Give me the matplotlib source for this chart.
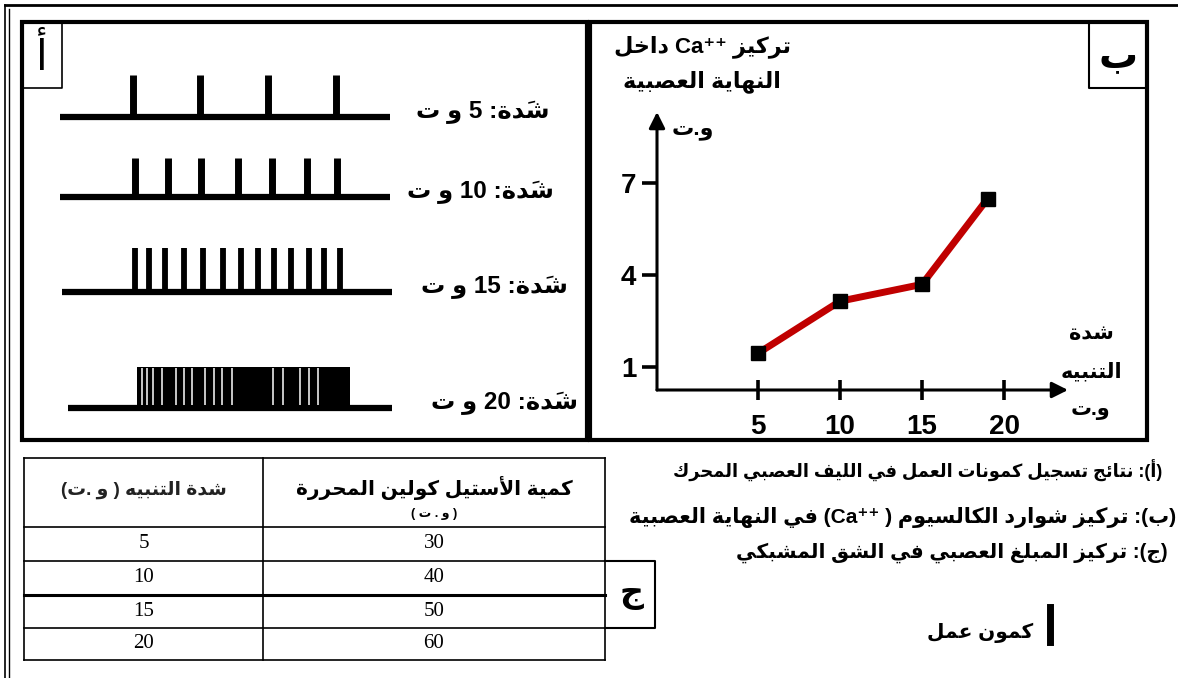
import matplotlib.pyplot as plt
from matplotlib.patches import Rectangle

# ---------------- data ----------------
# panel A: action potential trains (time units, baseline runs 0..100)
intensities = [5, 10, 15, 20]
spikes_5 = [22, 42.5, 63, 83.5]
spikes_10 = [22.7, 32.7, 42.7, 53.9, 64.2, 74.8, 83.9]
spikes_15 = [22.7, 27.0, 31.8, 37.6, 43.3, 49.4, 54.8, 60.0, 64.8, 70.0, 75.5, 80.0, 84.8]
burst_20 = (23.3, 87.9)
gaps_20 = [24.8, 26.4, 28.2, 30.9, 35.2, 37.6, 40.0, 43.9, 46.7, 49.1, 52.1,
           64.5, 67.6, 72.7, 75.5, 78.2]

# panel B: Ca++ concentration vs stimulus intensity
stim = [5, 10, 15, 19]
ca_conc = [1.45, 3.15, 3.7, 6.5]
b_xticks = [5, 10, 15, 20]
b_yticks = [1, 4, 7]

# panel C: table
tab_stim = [5, 10, 15, 20]
tab_ach = [30, 40, 50, 60]

# texts
row_label = 'شدَة: {} و ت'
b_ylabel = ['تركيز Ca⁺⁺ داخل', 'النهاية العصبية', 'و.ت']
b_xlabel = ['شدة', 'التنبيه', 'و.ت']
tab_head = ['شدة التنبيه ( و .ت)', 'كمية الأستيل كولين المحررة', '( و . ت )']
captions = ['(أ): نتائج تسجيل كمونات العمل في الليف العصبي المحرك',
            '(ب): تركيز شوارد الكالسيوم ( Ca⁺⁺) في النهاية العصبية',
            '(ج): تركيز المبلغ العصبي في الشق المشبكي']
ap_label = 'كمون عمل'

# ------------- arabic shaping (matplotlib has no RTL layout) -------------
FORMS = {
    'ء': ('\uFE80', None, None, None), 'آ': ('\uFE81', '\uFE82', None, None),
    'أ': ('\uFE83', '\uFE84', None, None), 'ؤ': ('\uFE85', '\uFE86', None, None),
    'إ': ('\uFE87', '\uFE88', None, None), 'ئ': ('\uFE89', '\uFE8A', '\uFE8B', '\uFE8C'),
    'ا': ('\uFE8D', '\uFE8E', None, None), 'ب': ('\uFE8F', '\uFE90', '\uFE91', '\uFE92'),
    'ة': ('\uFE93', '\uFE94', None, None), 'ت': ('\uFE95', '\uFE96', '\uFE97', '\uFE98'),
    'ث': ('\uFE99', '\uFE9A', '\uFE9B', '\uFE9C'), 'ج': ('\uFE9D', '\uFE9E', '\uFE9F', '\uFEA0'),
    'ح': ('\uFEA1', '\uFEA2', '\uFEA3', '\uFEA4'), 'خ': ('\uFEA5', '\uFEA6', '\uFEA7', '\uFEA8'),
    'د': ('\uFEA9', '\uFEAA', None, None), 'ذ': ('\uFEAB', '\uFEAC', None, None),
    'ر': ('\uFEAD', '\uFEAE', None, None), 'ز': ('\uFEAF', '\uFEB0', None, None),
    'س': ('\uFEB1', '\uFEB2', '\uFEB3', '\uFEB4'), 'ش': ('\uFEB5', '\uFEB6', '\uFEB7', '\uFEB8'),
    'ص': ('\uFEB9', '\uFEBA', '\uFEBB', '\uFEBC'), 'ض': ('\uFEBD', '\uFEBE', '\uFEBF', '\uFEC0'),
    'ط': ('\uFEC1', '\uFEC2', '\uFEC3', '\uFEC4'), 'ظ': ('\uFEC5', '\uFEC6', '\uFEC7', '\uFEC8'),
    'ع': ('\uFEC9', '\uFECA', '\uFECB', '\uFECC'), 'غ': ('\uFECD', '\uFECE', '\uFECF', '\uFED0'),
    'ف': ('\uFED1', '\uFED2', '\uFED3', '\uFED4'), 'ق': ('\uFED5', '\uFED6', '\uFED7', '\uFED8'),
    'ك': ('\uFED9', '\uFEDA', '\uFEDB', '\uFEDC'), 'ل': ('\uFEDD', '\uFEDE', '\uFEDF', '\uFEE0'),
    'م': ('\uFEE1', '\uFEE2', '\uFEE3', '\uFEE4'), 'ن': ('\uFEE5', '\uFEE6', '\uFEE7', '\uFEE8'),
    'ه': ('\uFEE9', '\uFEEA', '\uFEEB', '\uFEEC'), 'و': ('\uFEED', '\uFEEE', None, None),
    'ى': ('\uFEEF', '\uFEF0', None, None), 'ي': ('\uFEF1', '\uFEF2', '\uFEF3', '\uFEF4'),
}
LAM_ALEF = {'آ': ('\uFEF5', '\uFEF6'), 'أ': ('\uFEF7', '\uFEF8'),
            'إ': ('\uFEF9', '\uFEFA'), 'ا': ('\uFEFB', '\uFEFC')}
HARAKAT = set('\u064B\u064C\u064D\u064E\u064F\u0650\u0651\u0652')


def ar(text):
    clusters = []
    for ch in text:
        if ch in HARAKAT and clusters:
            clusters[-1][1] += ch
        else:
            clusters.append([ch, ''])
    res = []
    prev_joins = False
    i = 0
    n = len(clusters)
    while i < n:
        ch, marks = clusters[i]
        nxt = clusters[i + 1][0] if i + 1 < n else ''
        if ch == 'ل' and nxt in LAM_ALEF:
            res.append([LAM_ALEF[nxt][1 if prev_joins else 0], marks + clusters[i + 1][1], 'R'])
            prev_joins = False
            i += 2
            continue
        if ch in FORMS:
            iso, fin, ini, med = FORMS[ch]
            to_next = ini is not None and nxt in FORMS and FORMS[nxt][1] is not None
            if prev_joins and to_next:
                g = med
            elif prev_joins:
                g = fin
            elif to_next:
                g = ini
            else:
                g = iso
            res.append([g, marks, 'R'])
            prev_joins = to_next
        else:
            d = 'L' if (ch.isascii() and ch.isalnum()) or ch == '⁺' else 'N'
            res.append([ch, marks, d])
            prev_joins = False
        i += 1
    res = res[::-1]
    out = []
    j = 0
    while j < len(res):
        if res[j][2] == 'L':
            k = j
            while k < len(res) and res[k][2] == 'L':
                k += 1
            out += [g + m for g, m, _ in res[j:k][::-1]]
            j = k
        else:
            g, m, _ = res[j]
            out.append({'(': ')', ')': '('}.get(g, g) + m)
            j += 1
    return ''.join(out)


SANS = ['Liberation Sans', 'DejaVu Sans']
SERIF = ['Liberation Serif', 'DejaVu Sans']

fig = plt.figure(figsize=(11.78, 6.78), dpi=100)
base = fig.add_axes([0, 0, 1, 1])
base.set_xlim(0, 1178)
base.set_ylim(678, 0)
base.axis('off')

# outer frame
base.plot([5, 5], [5, 678], color='k', lw=1.2)
base.plot([9, 9], [9, 678], color='k', lw=1.0)
base.plot([5, 1178], [5, 5], color='k', lw=2.0)

# panel boxes
base.add_patch(Rectangle((22, 22), 565, 418, fill=False, lw=3, ec='k'))
base.add_patch(Rectangle((590, 22), 557, 418, fill=False, lw=3, ec='k'))
base.plot([22, 62, 62], [88, 88, 22], color='k', lw=1.2)
base.plot([1089, 1089, 1147], [22, 88, 88], color='k', lw=1.5)
base.text(42, 57, ar('أ'), ha='center', va='center', fontsize=30, family=SANS)
base.text(1118, 57, ar('ب'), ha='center', va='center', fontsize=28,
          fontweight='bold', family=SANS)

# ---------------- panel A ----------------
ax_a = fig.add_axes([0, 0, 590 / 1178, 1])
ax_a.set_xlim(-60 / 3.3, 530 / 3.3)
ax_a.set_ylim(678, 0)
ax_a.axis('off')
rows_base = [117, 197, 292, 408]
rows_top = [75, 158, 248, 367]
rows_span = [(0, 100), (0, 100), (0.6, 100.6), (2.4, 100.6)]
trains = [spikes_5, spikes_10, spikes_15]
for r in range(4):
    ax_a.hlines(rows_base[r], *rows_span[r], color='k', lw=4.5)
    if r < 3:
        ax_a.vlines(trains[r], rows_top[r], rows_base[r], color='k',
                    lw=5 if r < 2 else 4.2)
    else:
        ax_a.fill_between(burst_20, rows_top[r], rows_base[r], color='k', lw=0)
        ax_a.vlines(gaps_20, rows_top[r] + 1, rows_base[r] - 3, color='white', lw=1.1)
label_right = [550, 554, 568, 578]
for r, v in enumerate(intensities):
    base.text(label_right[r], rows_base[r] - 5, ar(row_label.format(v)), ha='right',
              va='center', fontsize=17.5, fontweight='bold', family=SANS)

# ---------------- panel B ----------------
x0, x1 = -1.16, 23.9
y0, y1 = 0.25, 9.33
ax_b = fig.add_axes([657 / 1178, (678 - 390) / 678, (1068 - 657) / 1178, (390 - 112) / 678])
ax_b.set_xlim(x0, x1)
ax_b.set_ylim(y0, y1)
for s in ax_b.spines.values():
    s.set_visible(False)
ax_b.patch.set_alpha(0)
ax_b.annotate('', xy=(x1, y0), xytext=(x0, y0), annotation_clip=False,
              arrowprops=dict(arrowstyle='-|>', lw=2.2, color='k', mutation_scale=24,
                              shrinkA=0, shrinkB=0))
ax_b.annotate('', xy=(x0, y1), xytext=(x0, y0), annotation_clip=False,
              arrowprops=dict(arrowstyle='-|>', lw=2.2, color='k', mutation_scale=24,
                              shrinkA=0, shrinkB=0))
ax_b.plot(stim, ca_conc, color='#c00000', lw=5, zorder=3)
ax_b.plot(stim, ca_conc, 's', color='k', ms=10, zorder=4)
ax_b.set_xticks(b_xticks)
ax_b.set_yticks(b_yticks)
ax_b.tick_params(axis='x', direction='inout', length=15, width=2.6, pad=10)
ax_b.tick_params(axis='y', direction='out', length=11, width=2.6, pad=4)
for lab in ax_b.get_xticklabels() + ax_b.get_yticklabels():
    lab.set_fontsize(20)
    lab.set_fontweight('bold')
    lab.set_family(SANS)

for txt, (x, y) in zip(b_ylabel, [(703, 47), (702, 82), (693, 130)]):
    base.text(x, y, ar(txt), ha='center', va='center', fontsize=16,
              fontweight='bold', family=SANS)
for txt, (x, y) in zip(b_xlabel, [(1091, 334), (1091, 372), (1090, 410)]):
    base.text(x, y, ar(txt), ha='center', va='center', fontsize=15,
              fontweight='bold', family=SANS)

# ---------------- panel C: table ----------------
tx = [24, 263, 605]
ty = [458, 527, 561, 595, 628, 660]
for y in ty:
    base.plot([tx[0], tx[-1]], [y, y], color='k', lw=2.2 if y == 595 else 1.2)
for x in tx:
    base.plot([x, x], [ty[0], ty[-1]], color='k', lw=1.2)
base.text((tx[0] + tx[1]) / 2, 490, ar(tab_head[0]), ha='center', va='center',
          fontsize=13.5, fontweight='bold', family=SANS, color='#222222')
base.text((tx[1] + tx[2]) / 2, 488, ar(tab_head[1]), ha='center', va='center',
          fontsize=14.5, fontweight='bold', family=SANS)
base.text((tx[1] + tx[2]) / 2, 514, ar(tab_head[2]), ha='center', va='center',
          fontsize=9, fontweight='bold', family=SANS)
for k in range(len(tab_stim)):
    yc = (ty[k + 1] + ty[k + 2]) / 2
    base.text((tx[0] + tx[1]) / 2, yc, str(tab_stim[k]), ha='center', va='center',
              fontsize=15, family=SERIF)
    base.text((tx[1] + tx[2]) / 2, yc, str(tab_ach[k]), ha='center', va='center',
              fontsize=15, family=SERIF)
base.plot([605, 655, 655, 605], [561, 561, 628, 628], color='k', lw=1.5)
base.text(631, 595, ar('ج'), ha='center', va='center', fontsize=24,
          fontweight='bold', family=SANS)

# captions
for txt, (x, y, fs) in zip(captions, [(1162, 471, 12.8), (1176, 518, 15), (1168, 553, 14.5)]):
    base.text(x, y, ar(txt), ha='right', va='center', fontsize=fs,
              fontweight='bold', family=SANS)
base.plot([1050, 1050], [607, 642], color='k', lw=5)
base.text(1033, 633, ar(ap_label), ha='right', va='center', fontsize=14.5,
          fontweight='bold', family=SANS)

fig.savefig('out.png', dpi=100)
